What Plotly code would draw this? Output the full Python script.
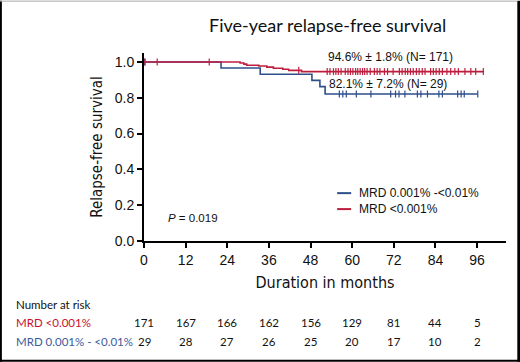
import plotly.graph_objects as go

# ---------------- data ----------------
months_ticks = [0, 12, 24, 36, 48, 60, 72, 84, 96]

red_name = "MRD <0.001%"
red_times = [0, 27.7, 28.8, 29.6, 33.1, 35.4, 37.3, 40.0, 41.7, 45.4, 98.0]
red_surv = [1.0, 0.994, 0.988, 0.982, 0.977, 0.971, 0.965, 0.959, 0.953, 0.946, 0.946]
red_censor = [0.3, 3.8, 18.8, 44.6, 52.8, 53.6, 54.6, 55.3, 56.0, 56.8, 58.0, 58.8, 59.5,
              60.2, 61.0, 61.6, 62.3, 63.0, 63.6, 64.3, 65.2, 66.4, 67.2, 68.0, 69.3,
              70.2, 71.8, 73.6, 74.4, 75.3, 76.0, 76.8, 77.6, 78.5, 79.3, 80.2, 81.0,
              82.6, 83.4, 84.2, 85.1, 86.0, 87.3, 88.4, 89.6, 90.6, 92.5, 94.2, 95.6, 97.8]

blue_name = "MRD 0.001% -<0.01%"
blue_times = [0, 22.2, 33.5, 48.4, 50.7, 52.2, 96.2]
blue_surv = [1.0, 0.966, 0.931, 0.897, 0.862, 0.821, 0.821]
blue_censor = [0.2, 56.3, 57.3, 58.3, 61.2, 65.4, 71.1, 72.5, 73.5, 75.2, 78.8, 79.8,
               81.7, 85.0, 86.0, 90.4, 91.4, 92.3, 96.2]

risk_red = [171, 167, 166, 162, 156, 129, 81, 44, 5]
risk_blue = [29, 28, 27, 26, 25, 20, 17, 10, 2]
risk_red_label = "MRD <0.001%"
risk_blue_label = "MRD 0.001% - <0.01%"

red_annot = "94.6% ± 1.8% (N= 171)"
blue_annot = "82.1% ± 7.2% (N= 29)"
p_text = "<i>P</i> = 0.019"
title_text = "Five-year relapse-free survival"

RED = "#BE1E3E"
BLUE = "#2E4F8C"
RED_TXT = "#C8102E"
BLUE_TXT = "#3B5C9E"
COND = "DejaVu Sans Condensed, Liberation Sans Narrow, Roboto"


def step_value(times, surv, t):
    v = surv[0]
    for ti, si in zip(times, surv):
        if ti <= t:
            v = si
    return v


fig = go.Figure()

for times, surv, cens, col, name in [
    (blue_times, blue_surv, blue_censor, BLUE, blue_name),
    (red_times, red_surv, red_censor, RED, red_name),
]:
    fig.add_trace(go.Scatter(x=times, y=surv, mode="lines", line=dict(color=col, width=1.6, shape="hv"),
                             name=name, showlegend=False, hoverinfo="skip"))
    fig.add_trace(go.Scatter(x=cens, y=[step_value(times, surv, c) for c in cens], mode="markers",
                             marker=dict(symbol="line-ns", size=5, line=dict(color=col, width=1.2)),
                             showlegend=False, hoverinfo="skip"))

W, H = 520, 362
L, R = 144, 14.3
T, B = 52.5, 121
pw = W - L - R
ph = H - T - B


def px(x):
    return (x - L) / pw


def py(y):
    return (H - B - y) / ph


annotations = []
shapes = []


def ann(text, x, y, size, color="#111", family="Liberation Sans", xanchor="center", xref="paper"):
    annotations.append(dict(text=text, x=x, y=py(y), xref=xref, yref="paper", xanchor=xanchor,
                            yanchor="middle", showarrow=False,
                            font=dict(family=family, size=size, color=color)))


ann(title_text, px(327), 24, 18, family="Lato")
ann(red_annot, px(390), 57, 12)
ann(blue_annot, px(388), 84, 12)
ann(p_text, px(166), 218, 11.5, xanchor="left")

# manual legend
for yy, col, name in [(193, BLUE, blue_name), (209, RED, red_name)]:
    shapes.append(dict(type="line", xref="paper", yref="paper", x0=px(337), x1=px(351), y0=py(yy), y1=py(yy),
                       line=dict(color=col, width=2)))
    ann(name, px(357), yy, 12, xanchor="left")

# number at risk
ann("Number at risk", px(14), 305, 11.5, family="Lato", xanchor="left")
ann(risk_red_label, px(14), 323, 11.5, color=RED_TXT, family="Lato", xanchor="left")
ann(risk_blue_label, px(14), 342, 11.5, color=BLUE_TXT, family="Lato", xanchor="left")
for m, rr, rb in zip(months_ticks, risk_red, risk_blue):
    ann(str(rr), m, 323, 11.5, family="Lato", xref="x")
    ann(str(rb), m, 342, 11.5, family="Lato", xref="x")

# frame
shapes.append(dict(type="rect", xref="paper", yref="paper", x0=px(0), x1=px(2), y0=py(362), y1=py(0),
                   fillcolor="black", line=dict(width=0), layer="above"))
shapes.append(dict(type="rect", xref="paper", yref="paper", x0=px(517), x1=px(520), y0=py(362), y1=py(0),
                   fillcolor="black", line=dict(width=0), layer="above"))
shapes.append(dict(type="rect", xref="paper", yref="paper", x0=px(0), x1=px(520), y0=py(362), y1=py(360),
                   fillcolor="black", line=dict(width=0), layer="above"))
shapes.append(dict(type="line", xref="paper", yref="paper", x0=px(0), x1=px(517), y0=py(0.5), y1=py(0.5),
                   line=dict(color="#aaaaaa", width=1), layer="above"))

fig.update_layout(
    width=W, height=H,
    margin=dict(l=L, r=R, t=T, b=B),
    paper_bgcolor="white", plot_bgcolor="white",
    showlegend=False,
    annotations=annotations,
    shapes=shapes,
    xaxis=dict(range=[0, (505.7 - L) / 3.4667], tickvals=months_ticks, ticks="outside", ticklen=5,
               tickwidth=1.5, tickcolor="black", showline=True, linecolor="black", linewidth=2,
               showgrid=False, zeroline=False, automargin=False,
               tickfont=dict(family="Liberation Sans", size=14, color="#111"),
               title=dict(text="Duration in months", standoff=10,
                          font=dict(family=COND, size=16, color="#111"))),
    yaxis=dict(range=[0, 1.05], tickvals=[0, 0.2, 0.4, 0.6, 0.8, 1.0], ticktext=["0.0", "0.2", "0.4", "0.6", "0.8", "1.0"],
               ticks="outside", ticklen=5, tickwidth=1.5, tickcolor="black", showline=True, linecolor="black",
               linewidth=2, showgrid=False, zeroline=False, automargin=False,
               tickfont=dict(family="Liberation Sans", size=14, color="#111"),
               title=dict(text="Relapse-free survival", standoff=8,
                          font=dict(family=COND, size=15, color="#111"))),
)

fig.write_html("out.html", config={"displayModeBar": False},
               post_script="document.body.style.margin='0';document.body.style.overflow='hidden';")
